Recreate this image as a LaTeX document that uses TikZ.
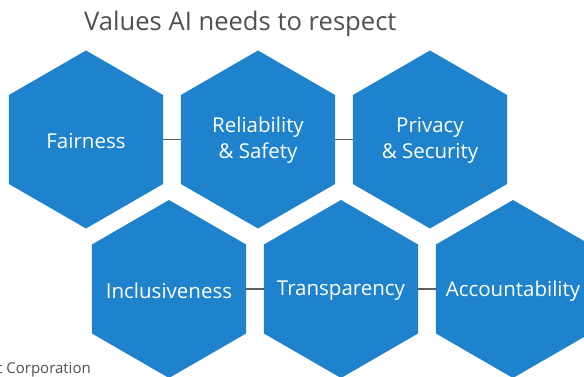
\documentclass[tikz,border=0pt]{standalone}
\usepackage{fontspec}
\setmainfont{Open Sans}
\usetikzlibrary{shapes.geometric}
\definecolor{hexblue}{RGB}{30,130,205}
\definecolor{titlegray}{RGB}{80,80,80}
\definecolor{linkgray}{RGB}{95,95,95}
\tikzset{
  hexnode/.style={regular polygon, regular polygon sides=6, regular polygon rotate=30,
    minimum size=178pt, inner sep=0pt, fill=hexblue},
  hextext/.style={text=white, font=\fontsize{20.5}{26}\selectfont, align=center, inner sep=0pt},
  linkline/.style={draw=linkgray, line width=1.4pt}
}
\begin{document}
\begin{tikzpicture}[x=1pt,y=-1pt]
\clip (0,0) rectangle (584,377);
\fill[white] (0,0) rectangle (584,377);
\node[font=\fontsize{25.6}{30}\selectfont, text=titlegray, anchor=base west, inner sep=0pt] (title) at (84,31) {Values AI needs to respect};
\node[hexnode] (fair) at (86,139.5) {};
\node[hexnode] (rel) at (258,139.5) {};
\node[hexnode] (priv) at (430,139.5) {};
\node[hexnode] (incl) at (169,289) {};
\node[hexnode] (trans) at (341,289) {};
\node[hexnode] (acc) at (513,289) {};
\node[hextext] (tfair) at ([yshift=-2pt]fair.center) {Fairness};
\node[hextext] (trel) at ([yshift=-1pt]rel.center) {Reliability\\\& Safety};
\node[hextext] (tpriv) at ([yshift=-1pt]priv.center) {Privacy\\\& Security};
\node[hextext] (tincl) at ([yshift=-2pt]incl.center) {Inclusiveness};
\node[hextext] (ttrans) at ([yshift=-2pt]trans.center) {Transparency};
\node[hextext] (tacc) at ([yshift=-2pt]acc.center) {Accountability};
\draw[linkline] (fair.east) -- (rel.west);
\draw[linkline] (rel.east) -- (priv.west);
\draw[linkline] (incl.east) -- (trans.west);
\draw[linkline] (trans.east) -- (acc.west);
\node[font=\fontsize{15}{17}\selectfont, text=titlegray, anchor=base west, inner sep=0pt] (corp) at (-3,373) {t Corporation};
\end{tikzpicture}
\end{document}
